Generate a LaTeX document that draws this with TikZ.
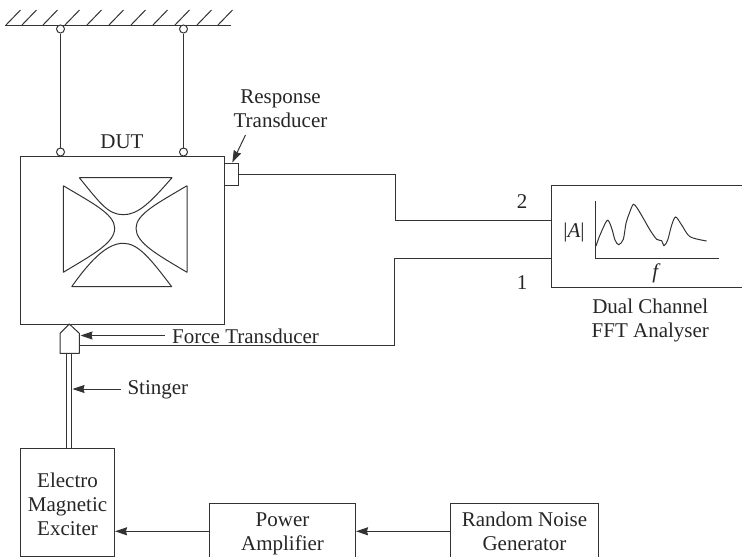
\documentclass[tikz,border=0pt]{standalone}
\usepackage{fontspec}
\setmainfont{Liberation Serif}
\usetikzlibrary{arrows.meta}
\newcommand{\topgap}[1]{\rule{0pt}{#1}}
\tikzset{
    lbl/.style={inner sep=0pt, align=center, text=black!85, font=\fontsize{21}{24}\selectfont},
    part/.style={draw=black!80, line width=1pt, inner sep=0pt, align=center, text=black!85, font=\fontsize{21}{24}\selectfont},
    wire/.style={draw=black!80, line width=1pt},
    pin/.style={draw=black!80, fill=white, line width=1pt, circle, minimum size=8pt, inner sep=0pt},
    lead/.style={draw=black!80, line width=1pt, -{Stealth[length=12pt, width=8pt, inset=1pt]}}
}
\begin{document}
\begin{tikzpicture}[x=1pt, y=-1pt]
    \useasboundingbox (0,0) rectangle (742,557);

    % ceiling
    \coordinate (ceilL) at (5,25);
    \coordinate (ceilR) at (231,25);
    \draw [wire] (ceilL) -- (ceilR);
    \foreach \x in {6,22,43,65,87,109,131,153,175,197,218}
        \draw [wire] (\x,25) -- +(14.5,-15);

    % device under test
    \node [part, minimum width=204pt, minimum height=168pt] (dut) at (122.5,240) {};
    \node [lbl] (dutlbl) at (122,141.5) {DUT};
    \node [pin] (topA) at (60.5,29) {};
    \node [pin] (topB) at (183.5,29) {};
    \node [pin] (botA) at (60.5,152) {};
    \node [pin] (botB) at (183.5,152) {};
    \draw [wire] (topA) -- (botA);
    \draw [wire] (topB) -- (botB);

    % cross shaped plate
    \draw [wire, line join=round] (79.3,177.7) -- (172,177.7)
        .. controls (150,203) and (138,214.7) .. (123.3,214.7)
        .. controls (108,214.7) and (100,203) .. (79.3,177.7);
    \draw [wire, line join=round] (71.7,286.7) -- (171.7,286.7)
        .. controls (150,258) and (138,243.3) .. (123.3,243.3)
        .. controls (108,243.3) and (92,258) .. (71.7,286.7);
    \draw [wire, line join=round] (63.3,185.7) -- (63.3,272.3)
        .. controls (92,255) and (114.7,243) .. (114.7,228.3)
        .. controls (114.7,214) and (92,203) .. (63.3,185.7);
    \draw [wire, line join=round] (187,185.7) -- (187,272.3)
        .. controls (158,255) and (136,243) .. (136,228.3)
        .. controls (136,214) and (158,203) .. (187,185.7);

    % transducers
    \node [part, minimum width=14.5pt, minimum height=21.5pt] (resp) at (231.7,174.3) {};
    \node [lbl] (resplbl) at (280.5,108.5) {Response\\Transducer};
    \coordinate (respfrom) at (245.5,135);
    \draw [lead] (respfrom) -- (232.3,162.5);
    \draw [wire, fill=white, line join=round] (69.3,324) -- (79.3,333.3) -- (79.3,353.3)
        -- (60,353.3) -- (60,333.3) -- cycle;
    \coordinate (forcetip) at (80.5,335.5);
    \node [lbl, anchor=west] (forcelbl) at (172,336) {Force Transducer};
    \draw [lead] (forcelbl.west) ++(-7,-0.5) -- (forcetip);

    % stinger
    \node [part, minimum width=94pt, minimum height=108pt] (exciter) at (67.5,502) {\topgap{26pt}Electro\\Magnetic\\Exciter\strut};
    \draw [wire] (66.5,353.3) -- (66.5,448);
    \draw [wire] (71.5,353.3) -- (71.5,448);
    \coordinate (stingtip) at (72.5,389);
    \node [lbl, anchor=west] (stinglbl) at (127.3,389.5) {Stinger};
    \draw [lead] (stinglbl.west) ++(-6,-0.5) -- (stingtip);

    % signal chain
    \node [part, minimum width=146pt, minimum height=56pt] (amp) at (282.5,531.3) {\topgap{22pt}Power\\Amplifier\strut};
    \node [part, minimum width=147.6pt, minimum height=56pt] (gen) at (524.5,531.3) {\topgap{22pt}Random Noise\\Generator\strut};
    \draw [lead] (gen.west) -- (amp.east);
    \draw [lead] (amp.west) -- (exciter.east |- amp.west);

    % analyser
    \coordinate (fftTL) at (551.5,185.5);
    \coordinate (fftBL) at (551.5,287.5);
    \draw [wire] (742,185.5) -- (fftTL) -- (fftBL) -- (742,287.5);
    \node [lbl] (fftlbl) at (650.3,320) {Dual Channel\\FFT Analyser};
    \node [lbl] (chtwo) at (522,202) {2};
    \node [lbl] (chone) at (522,283) {1};
    \coordinate (intwo) at (551.5,220.5);
    \coordinate (inone) at (551.5,258.5);
    \coordinate (outforce) at (79.3,345.5);
    \draw [wire] (resp.east) -- (395.5,174.3) -- (395.5,220.5) -- (intwo);
    \draw [wire] (outforce) -- (394.5,345.5) -- (394.5,258.5) -- (inone);

    % spectrum
    \coordinate (axtop) at (595,200.7);
    \coordinate (axorg) at (595,258.5);
    \coordinate (axend) at (718.7,258.5);
    \draw [wire] (axtop) -- (axorg) -- (axend);
    \node [lbl] (ampl) at (574,232) {|\textit{A}|};
    \node [lbl] (freq) at (656.5,273) {\textit{f}};
    \draw [wire] plot [smooth, tension=0.5] coordinates {(596,246) (600,235) (607.3,220.3) (611.7,228.3)
        (615,240) (618.7,244.7) (623.3,239.3) (626,223.3) (629.3,213.3) (633.3,204.3) (637.3,208.3)
        (643.3,218.3) (650,230) (656.7,239.3) (661.7,240.7) (664,245.7) (667.7,240) (671.7,225)
        (675.7,217) (681.7,225) (690,236.7) (706.7,241)};
\end{tikzpicture}
\end{document}
